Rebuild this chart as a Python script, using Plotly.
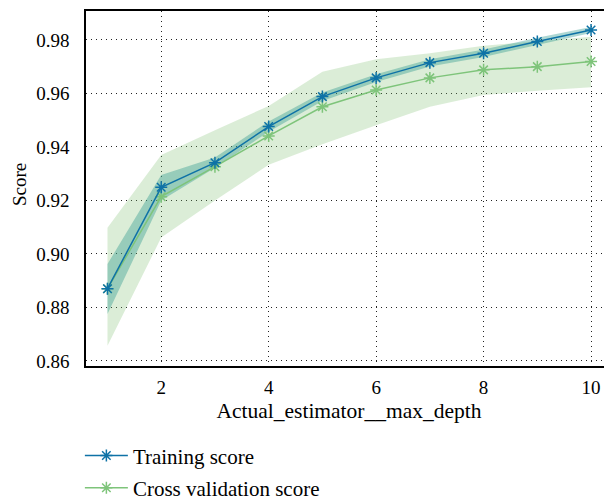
import plotly.graph_objects as go

depth = [1, 2, 3, 4, 5, 6, 7, 8, 9, 10]
train_mean = [0.887, 0.9249, 0.9341, 0.9476, 0.9588, 0.9658, 0.9715, 0.9750, 0.9794, 0.9837]
train_upper = [0.8962, 0.9295, 0.9360, 0.9495, 0.9603, 0.9672, 0.9728, 0.9764, 0.9808, 0.9848]
train_lower = [0.8775, 0.9200, 0.9322, 0.9457, 0.9572, 0.9643, 0.9701, 0.9736, 0.9780, 0.9826]
cv_mean = [0.887, 0.9214, 0.9326, 0.9441, 0.9550, 0.9613, 0.9658, 0.9688, 0.9700, 0.9719]
cv_upper = [0.9098, 0.9370, 0.9462, 0.9553, 0.9681, 0.9728, 0.9750, 0.9778, 0.9795, 0.9812]
cv_lower = [0.8657, 0.9061, 0.9200, 0.9333, 0.9410, 0.9481, 0.9550, 0.9594, 0.9610, 0.9623]
y_ticks = [0.86, 0.88, 0.90, 0.92, 0.94, 0.96, 0.98]
x_ticks = [2, 4, 6, 8, 10]
x_title = "Actual_estimator__max_depth"
y_title = "Score"

FONT = "Liberation Serif"
train_color = "#0e72a6"
cv_color = "#7ec47a"
tickf = dict(family=FONT, size=19, color="black")
xtitlef = dict(family=FONT, size=21.5, color="black")
ytitlef = dict(family=FONT, size=19, color="black")
legf = dict(family=FONT, size=21, color="black")

fig = go.Figure()
fig.add_trace(go.Scatter(
    x=depth + depth[::-1], y=cv_upper + cv_lower[::-1],
    fill="toself", fillcolor="rgba(127,191,110,0.28)", line=dict(width=0),
    mode="lines", showlegend=False, hoverinfo="skip"))
fig.add_trace(go.Scatter(
    x=depth + depth[::-1], y=train_upper + train_lower[::-1],
    fill="toself", fillcolor="rgba(40,150,140,0.38)", line=dict(width=0),
    mode="lines", showlegend=False, hoverinfo="skip"))
fig.add_trace(go.Scatter(
    x=depth, y=cv_mean, name="Cross validation score", mode="lines+markers",
    line=dict(color=cv_color, width=1.5),
    marker=dict(symbol="asterisk-open", size=10, line=dict(color=cv_color, width=1.5)),
    legendgroup="b", legendrank=2))
fig.add_trace(go.Scatter(
    x=depth, y=train_mean, name="Training score", mode="lines+markers",
    line=dict(color=train_color, width=1.5),
    marker=dict(symbol="asterisk-open", size=10, line=dict(color=train_color, width=1.5)),
    legendgroup="a", legendrank=1))

# page body has an 8px default margin, so the figure is 8px smaller each way
fig.update_layout(
    width=604, height=490,
    margin=dict(l=78, r=0, t=3, b=132, autoexpand=False),
    paper_bgcolor="white", plot_bgcolor="white",
    font=tickf,
    showlegend=True,
    legend=dict(x=0.119, xref="container", y=0.128, yref="container",
                xanchor="left", yanchor="top", itemwidth=43,
                traceorder="grouped", tracegroupgap=2,
                font=legf, bgcolor="rgba(0,0,0,0)"),
    xaxis=dict(range=[0.6, 10.39], tickvals=x_ticks, ticktext=[str(t) for t in x_ticks],
               showgrid=True, gridcolor="#222", griddash="1px,4px", gridwidth=1,
               showline=True, linecolor="black", linewidth=1.5, mirror=True,
               ticks="outside", ticklen=3, tickcolor="rgba(0,0,0,0)",
               tickfont=tickf, zeroline=False, automargin=True,
               title=dict(text=x_title, standoff=6, font=xtitlef)),
    yaxis=dict(range=[0.8581, 0.9908], tickvals=y_ticks, tickformat=".2f",
               showgrid=True, gridcolor="#222", griddash="1px,4px", gridwidth=1,
               showline=True, linecolor="black", linewidth=1.5,
               ticks="outside", ticklen=11, tickcolor="rgba(0,0,0,0)",
               tickfont=tickf, zeroline=False, automargin=False),
    annotations=[dict(text=y_title, textangle=-90, xref="paper", yref="paper",
                      x=-0.1255, y=0.5127, xanchor="center", yanchor="middle",
                      showarrow=False, font=ytitlef)],
)

fig.write_html("out.html")
